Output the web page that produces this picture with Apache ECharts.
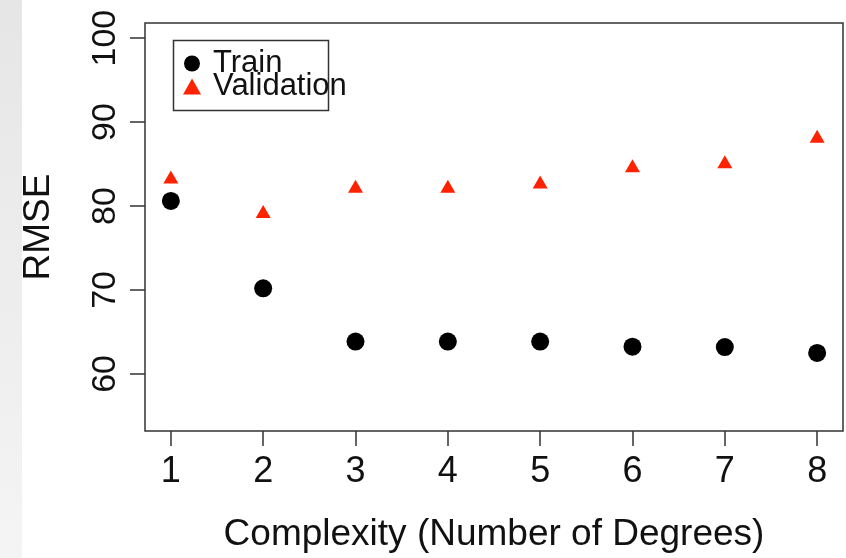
<!DOCTYPE html>
<html>
<head>
<meta charset="utf-8">
<title>RMSE vs Complexity</title>
<script src="https://cdn.jsdelivr.net/npm/echarts@6/dist/echarts.min.js"></script>
<style>
  html, body { margin: 0; padding: 0; background: #ffffff; }
  #chart { width: 846px; height: 558px; }
</style>
</head>
<body>
<div id="chart"></div>
<script>
// Polynomial degree on the x axis
const degrees = [1, 2, 3, 4, 5, 6, 7, 8];
// RMSE on the training set
const trainRmse = [80.6, 70.2, 63.85, 63.85, 63.85, 63.25, 63.2, 62.5];
// RMSE on the validation set
const validationRmse = [83.2, 79.1, 82.1, 82.1, 82.6, 84.55, 85.0, 88.05];
// Tick positions
const xTicks = [1, 2, 3, 4, 5, 6, 7, 8];
const yTicks = [60, 70, 80, 90, 100];

const FONT = '"Liberation Sans", Arial, Helvetica, sans-serif';
const INK = '#111111';
const FRAME = '#333333';
const RED = '#ff2200';
const TRI_W = 15, TRI_H = 13;

const chart = echarts.init(document.getElementById('chart'), null, { renderer: 'canvas' });

chart.setOption({
  backgroundColor: '#ffffff',
  animation: false,
  textStyle: { fontFamily: FONT },
  grid: {
    left: 145, right: 3, top: 23, bottom: 127,
    show: true, borderColor: FRAME, borderWidth: 1.5,
    backgroundColor: 'transparent',
    outerBoundsMode: 'none'
  },
  xAxis: {
    type: 'value',
    min: 0.72, max: 8.28,
    name: 'Complexity (Number of Degrees)',
    nameLocation: 'middle',
    nameGap: 85,
    nameTextStyle: { fontSize: 37, color: INK, fontFamily: FONT },
    axisLine: { show: false },
    axisTick: { show: true, customValues: xTicks, length: 15, lineStyle: { color: FRAME, width: 1.5 } },
    axisLabel: { customValues: xTicks, fontSize: 36, color: INK, margin: 23, fontFamily: FONT },
    splitLine: { show: false }
  },
  yAxis: {
    type: 'value',
    min: 53.2, max: 101.8,
    name: 'RMSE',
    nameLocation: 'middle',
    nameGap: 88,
    nameRotate: 90,
    nameTextStyle: { fontSize: 37, color: INK, fontFamily: FONT },
    axisLine: { show: false },
    axisTick: { show: true, customValues: yTicks, length: 15, lineStyle: { color: FRAME, width: 1.5 } },
    axisLabel: { customValues: yTicks, fontSize: 34, color: INK, margin: 22, rotate: 90, fontFamily: FONT },
    splitLine: { show: false }
  },
  legend: {
    orient: 'vertical',
    left: 183, top: 48,
    itemWidth: 18, itemHeight: 16,
    itemGap: -8,
    padding: 0,
    selectedMode: false,
    textStyle: { fontSize: 31, color: INK, fontFamily: FONT, padding: [0, 0, 0, 7] },
    data: [
      { name: 'Train', itemStyle: { color: '#000000', opacity: 1 } },
      { name: 'Validation', itemStyle: { color: RED, opacity: 1 } }
    ]
  },
  graphic: [
    {
      type: 'rect', left: 0, top: 0, z: -10, silent: true,
      shape: { width: 22, height: 558 },
      style: {
        fill: new echarts.graphic.LinearGradient(0, 0, 0, 1, [
          { offset: 0, color: '#e6e6e6' },
          { offset: 1, color: '#f4f4f4' }
        ])
      }
    },
    {
      type: 'rect', left: 171, top: 38, z: 5, silent: true,
      shape: { width: 155, height: 70 },
      style: { fill: null, stroke: FRAME, lineWidth: 1.5 }
    }
  ],
  series: [
    {
      name: 'Train',
      type: 'scatter',
      symbol: 'circle',
      symbolSize: 18,
      itemStyle: { color: '#000000', opacity: 1 },
      data: degrees.map((d, i) => [d, trainRmse[i]])
    },
    {
      name: 'Validation',
      type: 'scatter',
      symbol: 'triangle',
      symbolSize: [TRI_W, TRI_H],
      symbolOffset: [0, -TRI_H / 6],
      itemStyle: { color: RED, opacity: 1 },
      data: degrees.map((d, i) => [d, validationRmse[i]])
    }
  ]
});
</script>
</body>
</html>
